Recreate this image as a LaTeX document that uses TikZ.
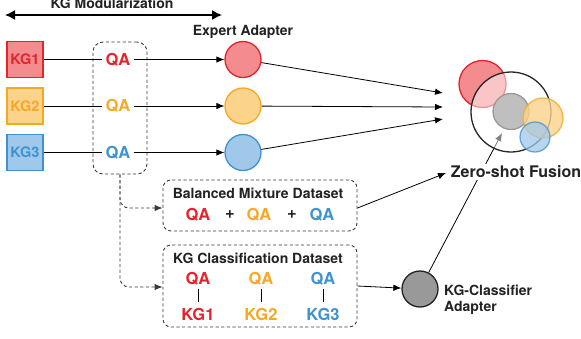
\documentclass[tikz,border=0pt]{standalone}
\usepackage{fontspec}
\setmainfont{TeX Gyre Heros}
\usetikzlibrary{arrows.meta}
\definecolor{cred}{HTML}{E5232B}
\definecolor{credf}{HTML}{F38B8F}
\definecolor{cora}{HTML}{F7A823}
\definecolor{coraf}{HTML}{FBD38B}
\definecolor{cblu}{HTML}{3E92D0}
\definecolor{cbluf}{HTML}{A0C8EA}
\definecolor{ctxt}{HTML}{222222}
\definecolor{cdash}{HTML}{3A3A3A}
\begin{document}
\begin{tikzpicture}[x=1pt,y=-1pt,
  lbl/.style={font=\bfseries\fontsize{14}{16}\selectfont, text=ctxt, inner sep=1pt},
  kgbox/.style={draw, line width=1.2pt, minimum size=36pt, inner sep=0pt, font=\bfseries\fontsize{14.5}{14}\selectfont},
  qa/.style={font=\bfseries\fontsize{16.5}{16}\selectfont, inner sep=3pt},
  kgl/.style={font=\bfseries\fontsize{16.5}{16}\selectfont, inner sep=3pt},
  adapt/.style={circle, draw, line width=1.3pt, minimum size=36pt, inner sep=0pt},
  conn/.style={draw=black, line width=0.8pt},
  arr/.style={conn, -{Latex[length=8pt,width=6.5pt]}},
  dbox/.style={draw=cdash, line width=0.9pt, dash pattern=on 3.2pt off 2.4pt, rounded corners=8pt},
  dconn/.style={draw=cdash, line width=0.9pt, dash pattern=on 3.2pt off 2.4pt, rounded corners=9pt, -{Latex[length=8pt,width=6.5pt]}},
  tick/.style={draw=black, line width=1pt}
]
\useasboundingbox (0,0) rectangle (581,338);

% title and double arrow
\node[lbl] (title) at (112,3.5) {KG Modularization};
\coordinate (dl) at (5,15);
\coordinate (dr) at (222,15);
\draw[line width=1.4pt, {Latex[length=10pt,width=10pt]}-{Latex[length=10pt,width=10pt]}] (dl) -- (dr);

% KG boxes
\node[kgbox, draw=cred, fill=credf, text=cred] (kg1) at (25,59.5) {KG1};
\node[kgbox, draw=cora, fill=coraf, text=cora] (kg2) at (25,106) {KG2};
\node[kgbox, draw=cblu, fill=cbluf, text=cblu] (kg3) at (25,152.5) {KG3};

% QA group
\node[dbox, minimum width=54pt, minimum height=132pt, rounded corners=10pt] (grp) at (120,108) {};
\node[qa, text=cred] (qa1) at (118,59.5) {QA};
\node[qa, text=cora] (qa2) at (118,106) {QA};
\node[qa, text=cblu] (qa3) at (118,152.5) {QA};

% expert adapters
\node[lbl] (ea) at (243,32) {Expert Adapter};
\node[adapt, draw=cred, fill=credf] (ad1) at (243,59.5) {};
\node[adapt, draw=cora, fill=coraf] (ad2) at (243,106) {};
\node[adapt, draw=cblu, fill=cbluf] (ad3) at (243,152.5) {};

\draw[conn] (kg1) -- (qa1);
\draw[conn] (kg2) -- (qa2);
\draw[conn] (kg3) -- (qa3);
\draw[arr] (qa1) -- (ad1);
\draw[arr] (qa2) -- (ad2);
\draw[arr] (qa3) -- (ad3);

\coordinate (t1) at (443,93);
\coordinate (t2) at (443,107);
\coordinate (t3) at (443,119);
\draw[arr] (ad1) -- (t1);
\draw[arr] (ad2) -- (t2);
\draw[arr] (ad3) -- (t3);

% Balanced mixture dataset
\node[dbox, minimum width=194pt, minimum height=51pt] (bal) at (260,205.5) {};
\node[lbl] (balt) at (258,193) {Balanced Mixture Dataset};
\node[qa, text=cred] (b1) at (198,215) {QA};
\node[qa, text=ctxt] (p1) at (230,215) {+};
\node[qa, text=cora] (b2) at (259,215) {QA};
\node[qa, text=ctxt] (p2) at (292,215) {+};
\node[qa, text=cblu] (b3) at (322,215) {QA};

% KG classification dataset
\node[dbox, minimum width=194pt, minimum height=82pt] (cls) at (260,286) {};
\node[lbl] (clst) at (258,258) {KG Classification Dataset};
\node[qa, text=cred] (c1) at (198,279) {QA};
\node[qa, text=cora] (c2) at (261,279) {QA};
\node[qa, text=cblu] (c3) at (323,279) {QA};
\node[kgl, text=cred] (k1) at (198,314) {KG1};
\node[kgl, text=cora] (k2) at (261,314) {KG2};
\node[kgl, text=cblu] (k3) at (323,314) {KG3};
\draw[tick, shorten >=2.5pt] (c1.south) -- (k1.north);
\draw[tick, shorten >=2.5pt] (c2.south) -- (k2.north);
\draw[tick, shorten >=2.5pt] (c3.south) -- (k3.north);

% dashed connectors
\draw[dconn] (grp.south) |- ([yshift=-2.5pt]bal.west);
\draw[dconn] (grp.south) |- ([yshift=-1pt]cls.west);

% KG-classifier adapter
\node[adapt, draw=ctxt, fill=black!40] (clsad) at (420,289) {};
\node[lbl, align=left, anchor=west] (clsl) at (443,300) {KG-Classifier\\Adapter};
\draw[arr] (cls.east) -- (clsad);

% fusion
\coordinate (zin) at (446,173);
\draw[arr] ([yshift=-2.5pt]bal.east) -- (zin);
\fill[credf] (482.5,84) circle (23.5);
\draw[cred, line width=1.3pt] (482.5,84) circle (23.5);
\coordinate (ztip) at (502,133);
\draw[arr] (clsad) -- (ztip);
\draw[black!85, line width=1.3pt, fill=white, fill opacity=0.5] (511,112) circle (40);
\draw[black!40, line width=1.3pt, fill=black!25] (511,111.5) circle (18);
\draw[cora, line width=1.3pt, fill=coraf, opacity=0.8] (543,118) circle (20);
\draw[cblu, line width=1.3pt, fill=cbluf, opacity=0.75] (535,137) circle (15);
\node[font=\bfseries\fontsize{16}{16}\selectfont, text=ctxt, fill=white, inner sep=1.5pt] (zsf) at (516,172) {Zero-shot Fusion};
\end{tikzpicture}
\end{document}
